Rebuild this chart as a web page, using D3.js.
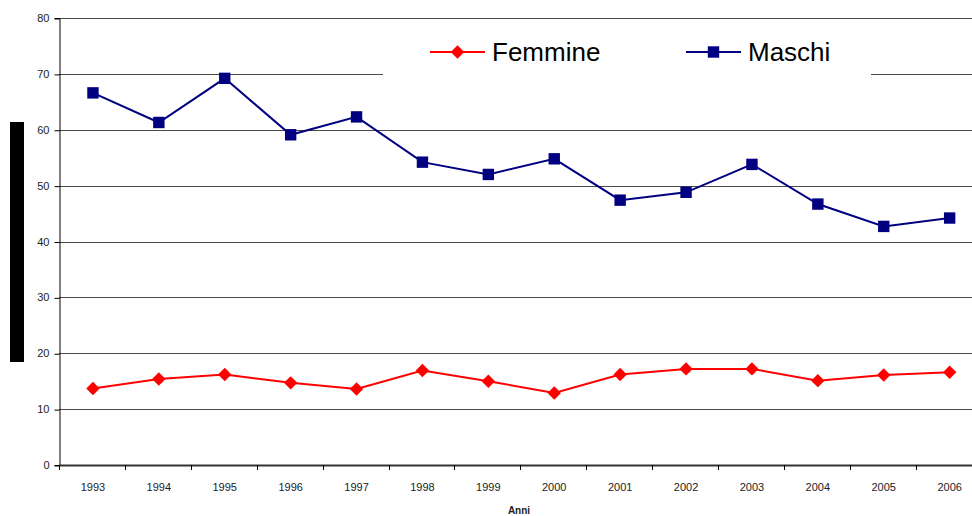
<!DOCTYPE html>
<html>
<head>
<meta charset="utf-8">
<script src="https://cdn.jsdelivr.net/npm/d3@7"></script>
<style>
  html, body { margin: 0; padding: 0; background: #fff; }
  svg { display: block; font-family: "Liberation Sans", Arial, sans-serif; }
</style>
</head>
<body>
<div id="chart"></div>
<script>
// data
const years = ["1993", "1994", "1995", "1996", "1997", "1998", "1999", "2000",
               "2001", "2002", "2003", "2004", "2005", "2006"];
const femmine = [13.7, 15.4, 16.2, 14.7, 13.6, 16.9, 15.0, 12.9, 16.2, 17.2, 17.2, 15.1, 16.1, 16.6];
const maschi = [66.6, 61.3, 69.2, 59.1, 62.3, 54.2, 52.0, 54.8, 47.4, 48.8, 53.8, 46.7, 42.7, 44.2];
const yTicks = [0, 10, 20, 30, 40, 50, 60, 70, 80];

const width = 972, height = 516;
const margin = { left: 59, top: 18, bottom: 51 };
const step = 65.9;

const svg = d3.select("#chart").append("svg")
    .attr("width", width)
    .attr("height", height);

const x = d3.scaleBand()
    .domain(years)
    .range([margin.left + 1, margin.left + 1 + step * years.length]);

const y = d3.scaleLinear()
    .domain([0, 80])
    .range([height - margin.bottom, margin.top]);

// gridlines
svg.append("g")
    .selectAll("line")
    .data(yTicks.filter(d => d > 0))
    .enter().append("line")
    .attr("x1", margin.left)
    .attr("x2", width)
    .attr("y1", d => Math.round(y(d)) + 0.5)
    .attr("y2", d => Math.round(y(d)) + 0.5)
    .style("stroke", "#4a4a4a")
    .style("stroke-width", 1);

// y axis
const yAxis = svg.append("g")
    .attr("transform", `translate(${margin.left + 0.5},0)`)
    .call(d3.axisLeft(y).tickValues(yTicks).tickSize(5).tickPadding(5));
yAxis.select(".domain").attr("stroke", "#000");
yAxis.selectAll(".tick line").attr("stroke", "#000")
    .attr("transform", "translate(0,0.5)");
yAxis.selectAll("text")
    .style("font-size", "11px")
    .style("fill", "#222");

// x axis line
svg.append("line")
    .attr("x1", margin.left)
    .attr("x2", width)
    .attr("y1", y(0) + 0.5)
    .attr("y2", y(0) + 0.5)
    .style("stroke", "#333")
    .style("stroke-width", 2);

// x tick marks at band boundaries
svg.append("g")
    .selectAll("line")
    .data(years.concat(["end"]))
    .enter().append("line")
    .attr("x1", (d, i) => Math.round(margin.left + i * x.step()) + 0.5)
    .attr("x2", (d, i) => Math.round(margin.left + i * x.step()) + 0.5)
    .attr("y1", y(0))
    .attr("y2", y(0) + 5)
    .style("stroke", "#000");

// x labels
svg.append("g")
    .selectAll("text")
    .data(years)
    .enter().append("text")
    .attr("x", d => x(d) + x.bandwidth() / 2)
    .attr("y", 491)
    .attr("text-anchor", "middle")
    .style("font-size", "11px")
    .style("fill", "#222")
    .text(d => d);

// axis title
svg.append("text")
    .attr("x", 519)
    .attr("y", 514)
    .attr("text-anchor", "middle")
    .style("font-size", "10px")
    .style("font-weight", "bold")
    .style("fill", "#222")
    .text("Anni");

// y axis title block
svg.append("rect")
    .attr("x", 10)
    .attr("y", 122)
    .attr("width", 14)
    .attr("height", 240)
    .style("fill", "#000");

// series (diamond = square turned 45deg)
const series = [
    { name: "Femmine", values: femmine, color: "#ff0000", size: 90, rotate: 45 },
    { name: "Maschi", values: maschi, color: "#000080", size: 130, rotate: 0 }
];

const line = d3.line()
    .x((d, i) => x(years[i]) + x.bandwidth() / 2)
    .y(d => y(d));

series.forEach(s => {
    svg.append("path")
        .datum(s.values)
        .attr("d", line)
        .style("fill", "none")
        .style("stroke", s.color)
        .style("stroke-width", 2);

    svg.append("g")
        .selectAll("path")
        .data(s.values)
        .enter().append("path")
        .attr("transform", (d, i) => `translate(${x(years[i]) + x.bandwidth() / 2},${y(d)}) rotate(${s.rotate})`)
        .attr("d", d3.symbol().type(d3.symbolSquare).size(s.size))
        .style("fill", s.color);
});

// legend
const legend = svg.append("g");
legend.append("rect")
    .attr("x", 383)
    .attr("y", 20)
    .attr("width", 488)
    .attr("height", 60)
    .style("fill", "#fff");

const legendX = [430, 686];
series.forEach((s, i) => {
    const g = legend.append("g").attr("transform", `translate(${legendX[i]},52)`);
    g.append("line")
        .attr("x1", 0).attr("x2", 55)
        .style("stroke", s.color)
        .style("stroke-width", 2);
    g.append("path")
        .attr("transform", `translate(27.5,0) rotate(${s.rotate})`)
        .attr("d", d3.symbol().type(d3.symbolSquare).size(s.size))
        .style("fill", s.color);
    g.append("text")
        .attr("x", 62)
        .attr("y", 9)
        .style("font-size", "26px")
        .style("fill", "#000")
        .text(s.name);
});
</script>
</body>
</html>
